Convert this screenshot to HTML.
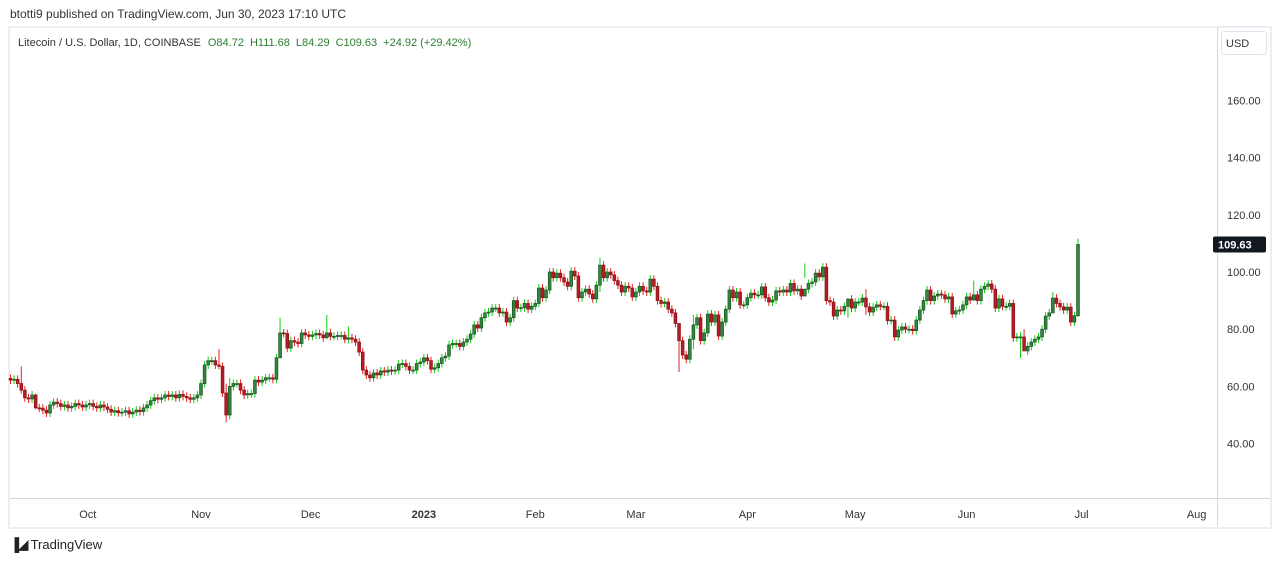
<!DOCTYPE html>
<html><head><meta charset="utf-8"><style>
body{margin:0;width:1281px;height:563px;background:#fff;font-family:"Liberation Sans",sans-serif;overflow:hidden;position:relative}
.t{position:absolute;white-space:nowrap}
</style></head><body>
<div class="t" style="left:10px;top:7px;font-size:12px;color:#333">btotti9 published on TradingView.com, Jun 30, 2023 17:10 UTC</div>
<svg width="1281" height="563" style="position:absolute;left:0;top:0" id="svg">
<rect x="9" y="27" width="1262" height="501" fill="none" stroke="#eceef2" stroke-width="2"/>
<line x1="1217.5" y1="28" x2="1217.5" y2="527" stroke="#d6d8dd"/>
<line x1="10" y1="498.5" x2="1270" y2="498.5" stroke="#d6d8dd"/>
<rect x="1221.5" y="31.5" width="45" height="23" rx="3" fill="#fff" stroke="#e0e3eb"/>
<text x="1226" y="47" font-size="11" fill="#333">USD</text>
<text x="18" y="46" font-size="11" fill="#333">Litecoin / U.S. Dollar, 1D, COINBASE <tspan fill="#2e7d32" dx="4">O84.72</tspan><tspan fill="#2e7d32" dx="6">H111.68</tspan><tspan fill="#2e7d32" dx="6">L84.29</tspan><tspan fill="#2e7d32" dx="6">C109.63</tspan><tspan fill="#2e7d32" dx="6">+24.92 (+29.42%)</tspan></text>
<g id="candles"></g><g id="yticks"></g><g id="xticks"></g>
</svg>
<div class="t" style="left:10px;top:537px;font-size:13px;color:#222"><b style="font-size:13px;letter-spacing:-1px">&#9616;&#9698;</b> TradingView</div>
<script>
const closes=[62.2,62.5,61,58.7,56,55.6,57,52.5,52.4,51.7,50.7,53.5,54.5,54,53,53.5,52.5,53,54,53.5,52.8,53.5,
54,53,52.5,53.5,52.8,52,51,51.5,50.8,51,51.5,50.4,51,51.7,51.2,52.5,53.5,55,56,55.5,56,57,56.5,57,56,57.2,56.5,56,55.5,56,57,
61,67.5,69,69,67.5,67,57.7,50,60,61,61,58.7,57,57.5,57.5,62.2,61.5,62.2,63,63,62.5,70,78.7,78.5,73.4,76,75.5,75,78.7,78,77.5,
78,78.5,78,77,78.7,77.5,77.5,77.8,77.8,76.5,77,76.5,75.5,72,65.7,64,63,64.7,64,65.4,65,65.7,65.4,65.7,67.8,68,67,65.7,65.7,68,68.5,
70,69,66,66.5,68,70,70.6,74.5,75,75,74,75.5,76.5,78.3,81.5,80.4,84,85.7,86,87.4,87.4,85.7,86,82.5,84,90,87.4,87.5,89,87,88,
89,94.4,91,93.7,100,98,99.6,98,96.5,95,100.3,98.6,91,93,94,92.3,90.6,95.4,102.4,98,100,99,97,95.4,93,95,94.4,91.3,
93,95,93.4,93,97.5,95,90,89,89.5,87,85.7,82,76,71,69.5,76.5,81.5,84,76,78.7,85.3,82.5,85,77.6,82.5,87,93.7,91,93,88.5,88.5,
91,92.6,92,92,94.8,91,89.5,90.2,93.4,93,93.7,93,96,93.4,94,91.6,94,96,96.5,99.6,98.3,101.7,90,89.5,84.6,86.7,86.4,88,90.5,87.4,
89.5,89.5,90.9,87.8,86,87.7,88.5,88,88,83,83.2,77.3,79.7,80.8,80,80,79.5,83.2,86.7,90,93.7,90,91.6,92.3,92,90.6,91.3,85.3,86.4,86.7,88.5,
91.3,90.2,92,90,94,95,95.8,94,87.4,90.6,88,88,89,77,77.3,77.3,72.4,74,75.5,76.5,77.3,80,84.6,85.7,90.9,89,87.8,86.7,87.7,82.5,84.72,109.63];
const firstOpen=62.8;
// [index, high, low] for notable wicks
const wickOverrides=[[3,67,57.5],[7,57.5,52],[60,61,47.5],[58,73,66],[61,63,48.5],[75,84,77],[88,85,76.5],[94,81,75],[164,105,93],[186,76,65],[190,85,73],[221,103,98],[233,91,84],[238,94,85],[268,97,90],[281,79,70],[282,80,75],[290,93,86],[297,111.68,84.29]];
const yTicks=[40,60,80,100,120,140,160];
const xLabels=["Oct","Nov","Dec","2023","Feb","Mar","Apr","May","Jun","Jul","Aug"];
const xLabelIdx=[21.5,53,83.5,115,146,174,205,235,266,298,330];
const lastPrice=109.63;

const NS="http://www.w3.org/2000/svg";
const n=closes.length;
const X=i=>10.5+i*(1078-10.5)/(n-1);
const Y=p=>272-(p-100)*2.86;
function mk(tag,at,parent){const e=document.createElementNS(NS,tag);for(const k in at)e.setAttribute(k,at[k]);parent.appendChild(e);return e;}
const gc=document.getElementById('candles');
const ov={};wickOverrides.forEach(w=>ov[w[0]]=w);
for(let i=0;i<n;i++){
  const o=i?closes[i-1]:firstOpen,c=closes[i];
  let hi=Math.max(o,c)+1.4,lo=Math.min(o,c)-1.4;
  if(ov[i]){hi=ov[i][1];lo=ov[i][2];}
  const up=c>=o,x=X(i);
  const w=mk('line',{x1:x,x2:x,y1:Y(hi),y2:Y(lo),stroke:up?'#10d010':'#ee2020','stroke-width':1},gc);
  
  
  const top=Y(Math.max(o,c)),h=Math.max(1,Math.abs(Y(o)-Y(c)));
  const b=mk('rect',{x:x-1.4,y:top,width:2.8,height:h,fill:up?'#2e8b3e':'#b71c24',stroke:up?'#1b4d20':'#8b1018','stroke-width':0.7},gc);
  
  
}
const gy=document.getElementById('yticks');
yTicks.forEach(v=>{const t=mk('text',{x:1227,y:Y(v)+4,'font-size':11,fill:'#333'},gy);t.textContent=v.toFixed(2);

});
const pl=mk('rect',{x:1213,y:Y(lastPrice)-8,width:53,height:16,rx:2,fill:'#131722'},gy);


const pt=mk('text',{x:1218,y:Y(lastPrice)+4,'font-size':11,'font-weight':'bold',fill:'#fff'},gy);pt.textContent=lastPrice.toFixed(2);


const gx=document.getElementById('xticks');
xLabels.forEach((l,k)=>{const t=mk('text',{x:X(xLabelIdx[k]),y:518,'font-size':11,fill:'#333','text-anchor':'middle','font-weight':l==='2023'?'bold':'normal'},gx);t.textContent=l;

});
</script>
</body></html>
